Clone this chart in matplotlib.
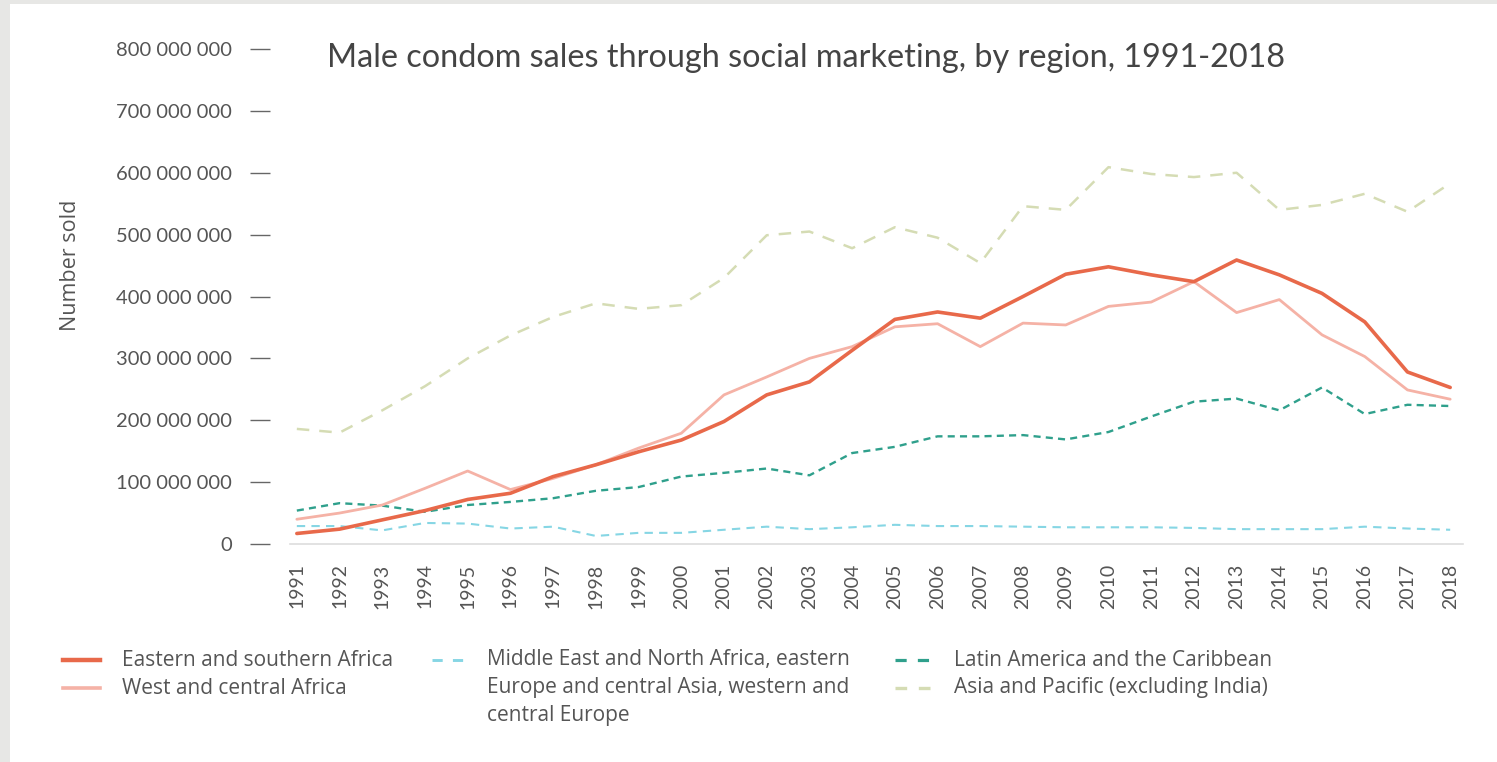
import matplotlib
matplotlib.use('Agg')
import matplotlib.pyplot as plt
from matplotlib.lines import Line2D
from matplotlib.patches import Rectangle
from matplotlib.ticker import FuncFormatter, FixedLocator

plt.rcParams['font.family'] = ['Lato', 'DejaVu Sans']
WIDE = ['Open Sans', 'DejaVu Sans']

years = list(range(1991, 2019))
# values in millions of condoms sold
eastern_southern = [17, 24, 39, 54, 72, 82, 109, 128, 149, 168, 198, 241, 262, 313,
                    363, 375, 365, 400, 436, 448, 435, 424, 459, 435, 405, 359, 278, 253]
west_central = [40, 50, 63, 90, 118, 88, 106, 128, 155, 179, 241, 270, 300, 319,
                351, 356, 319, 357, 354, 384, 391, 424, 374, 395, 338, 303, 249, 234]
mena_eeca_wce = [29, 29, 22, 34, 33, 25, 28, 13, 18, 18, 23, 28, 24, 27,
                 31, 29, 29, 28, 27, 27, 27, 26, 24, 24, 24, 28, 25, 23]
latin_america = [54, 66, 62, 52, 63, 68, 74, 86, 92, 109, 115, 122, 111, 147,
                 157, 174, 174, 176, 169, 181, 206, 230, 235, 216, 253, 210, 225, 223]
asia_pacific = [186, 180, 216, 255, 300, 337, 367, 389, 380, 386, 430, 499, 505, 478,
                512, 495, 454, 546, 540, 609, 598, 593, 600, 540, 548, 566, 537, 583]

labels = ["Eastern and southern Africa", "West and central Africa",
          "Middle East and North Africa, eastern\nEurope and central Asia, western and\ncentral Europe",
          "Latin America and the Caribbean", "Asia and Pacific (excluding India)"]
y_ticks = [0, 100e6, 200e6, 300e6, 400e6, 500e6, 600e6, 700e6, 800e6]

W, H = 1497, 762
fig = plt.figure(figsize=(W / 100, H / 100), dpi=100)
fig.patch.set_facecolor('#E7E7E5')
fig.add_artist(Rectangle((10 / W, 0), 1, 1 - 4 / H, transform=fig.transFigure,
                         facecolor='white', edgecolor='none', zorder=-5))

ax = fig.add_axes([290 / W, 1 - 544 / H, (1463 - 290) / W, (544 - 49) / H])
ax.set_facecolor('none')

M = 1e6
styles = [
    dict(color='#E8694A', lw=2.6, ls='-'),
    dict(color='#F5B2A6', lw=2.0, ls='-'),
    dict(color='#86D6E4', lw=1.5, ls=(0, (4, 3))),
    dict(color='#2FA08C', lw=1.7, ls=(0, (3, 2.2))),
    dict(color='#D5DCB4', lw=1.8, ls=(0, (5, 4))),
]
series = [eastern_southern, west_central, mena_eeca_wce, latin_america, asia_pacific]
order = [4, 2, 3, 1, 0]
for i in order:
    ax.plot(years, [v * M for v in series[i]], solid_capstyle='round', **styles[i],
            zorder=3 + (5 - i))

ax.set_xlim(1990.84, 2018.3)
ax.set_ylim(0, 800e6)

for s in ['top', 'right']:
    ax.spines[s].set_visible(False)
ax.spines['left'].set_visible(False)
ax.spines['left'].set_position(('outward', 14.4))
ax.spines['bottom'].set_color('#DDDDDD')
ax.spines['bottom'].set_linewidth(1.2)

ax.yaxis.set_major_locator(FixedLocator(y_ticks))
ax.yaxis.set_major_formatter(FuncFormatter(lambda v, p: f"{v:,.0f}".replace(',', ' ')))
ax.tick_params(axis='y', length=14.4, width=1.0, color='#666666', pad=13,
               labelsize=14.5, labelcolor='#555555')
ax.set_xticks(years)
ax.set_xticklabels([str(y) for y in years], rotation=90)
ax.tick_params(axis='x', length=0, pad=14, labelsize=14, labelcolor='#555555')

fig.text(70 / W, 1 - 265 / H, "Number sold", rotation=90, ha='center', va='center',
         fontsize=15.5, color='#555555', family=WIDE)

fig.text(327 / W, 1 - 67 / H, "Male condom sales through social marketing, by region, 1991-2018",
         ha='left', va='baseline', fontsize=23.3, color='#444444')

LFS = 15

def leg_item(x0, x1, xt, yc, idx, text):
    st = styles[idx]
    fig.add_artist(Line2D([x0 / W, x1 / W], [1 - yc / H, 1 - yc / H], transform=fig.transFigure,
                          color=st['color'], lw=st['lw'] + 0.6, ls=st['ls'] if idx < 2 else (0, (3.5, 3.5))))
    fig.text(xt / W, 1 - yc / H, text, ha='left', va='center', fontsize=LFS,
             color='#555555', family=WIDE)

leg_item(63, 100, 122, 660, 0, labels[0])
leg_item(63, 100, 122, 688, 1, labels[1])
leg_item(432, 468, 487, 660, 2, "Middle East and North Africa, eastern")
fig.text(487 / W, 1 - 688 / H, "Europe and central Asia, western and", ha='left', va='center',
         fontsize=LFS, color='#555555', family=WIDE)
fig.text(487 / W, 1 - 716 / H, "central Europe", ha='left', va='center',
         fontsize=LFS, color='#555555', family=WIDE)
leg_item(895, 932, 954, 660, 3, labels[3])
leg_item(895, 932, 954, 688, 4, labels[4])

fig.savefig('out.png', dpi=100, facecolor=fig.get_facecolor())
